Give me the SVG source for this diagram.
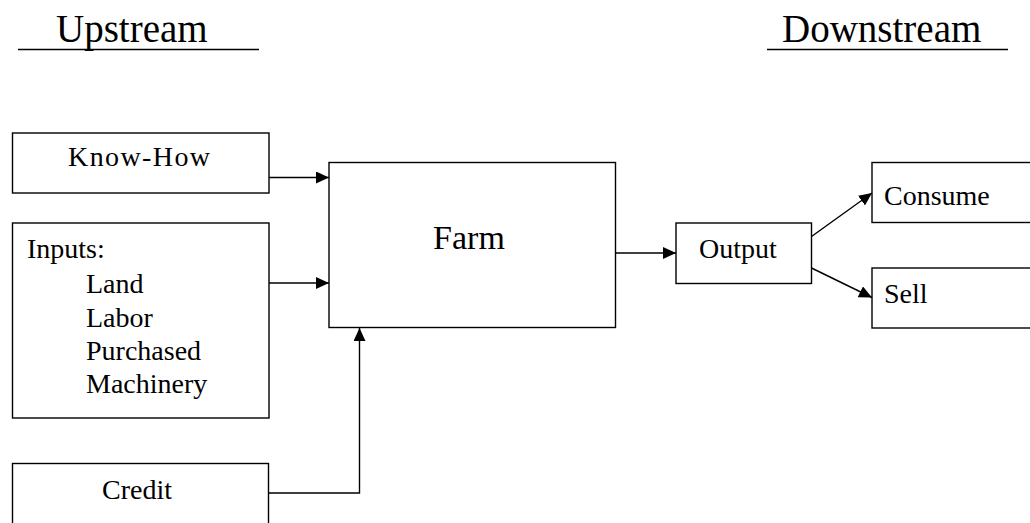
<svg xmlns="http://www.w3.org/2000/svg" width="1030" height="523" viewBox="0 0 1030 523">
<style>
  .box { fill: #ffffff; stroke: #000000; stroke-width: 1.4; }
  .t { font-family: "Liberation Serif", "Times New Roman", serif; font-size: 28px; fill: #000000; }
  .big { font-family: "Liberation Serif", "Times New Roman", serif; font-size: 39px; fill: #000000; }
  .conn { fill: none; stroke: #000000; stroke-width: 1.4; }
  .ul { stroke: #000000; stroke-width: 1.4; }
</style>
<defs>
  <marker id="arr" markerUnits="userSpaceOnUse" markerWidth="14" markerHeight="12" refX="13" refY="6" orient="auto">
    <path d="M0,0 L13,6 L0,12 z" fill="#000000"/>
  </marker>
</defs>
<rect x="0" y="0" width="1030" height="523" fill="#ffffff"/>

<g id="header-upstream">
  <text class="big" x="56" y="42">Upstream</text>
  <line class="ul" x1="18" y1="49.5" x2="259" y2="49.5"/>
</g>
<g id="header-downstream">
  <text class="big" x="782" y="42">Downstream</text>
  <line class="ul" x1="767" y1="49.5" x2="1008" y2="49.5"/>
</g>

<g id="knowhow">
  <rect class="box" x="12.5" y="133" width="256.5" height="60"/>
  <text class="t" x="139" y="166" text-anchor="middle" textLength="142">Know-How</text>
</g>

<g id="inputs">
  <rect class="box" x="12.5" y="223" width="256.5" height="195"/>
  <text class="t" x="27" y="258">Inputs:</text>
  <text class="t" x="86" y="293">Land</text>
  <text class="t" x="86" y="327">Labor</text>
  <text class="t" x="86" y="360">Purchased</text>
  <text class="t" x="86" y="393">Machinery</text>
</g>

<g id="credit">
  <rect class="box" x="12.5" y="463.5" width="256" height="70"/>
  <text class="t" x="137" y="499" text-anchor="middle">Credit</text>
</g>

<g id="farm">
  <rect class="box" x="329" y="162.5" width="286.5" height="165"/>
  <text class="t" x="469" y="249" text-anchor="middle" style="font-size:34px">Farm</text>
</g>

<g id="output">
  <rect class="box" x="676" y="223" width="135.5" height="60.5"/>
  <text class="t" x="699" y="258">Output</text>
</g>

<g id="consume">
  <rect class="box" x="872" y="162.5" width="170" height="60"/>
  <text class="t" x="884" y="205">Consume</text>
</g>

<g id="sell">
  <rect class="box" x="872" y="268" width="170" height="60"/>
  <text class="t" x="884" y="303">Sell</text>
</g>

<g id="connectors">
  <line class="conn" x1="269" y1="177.5" x2="329" y2="177.5" marker-end="url(#arr)"/>
  <line class="conn" x1="269" y1="283" x2="329" y2="283" marker-end="url(#arr)"/>
  <polyline class="conn" points="268.5,493 359.5,493 359.5,328" marker-end="url(#arr)"/>
  <line class="conn" x1="615.5" y1="253" x2="676" y2="253" marker-end="url(#arr)"/>
  <line class="conn" x1="811.5" y1="236.5" x2="872" y2="193" marker-end="url(#arr)"/>
  <line class="conn" x1="811.5" y1="268" x2="872" y2="297.5" marker-end="url(#arr)"/>
</g>
</svg>
